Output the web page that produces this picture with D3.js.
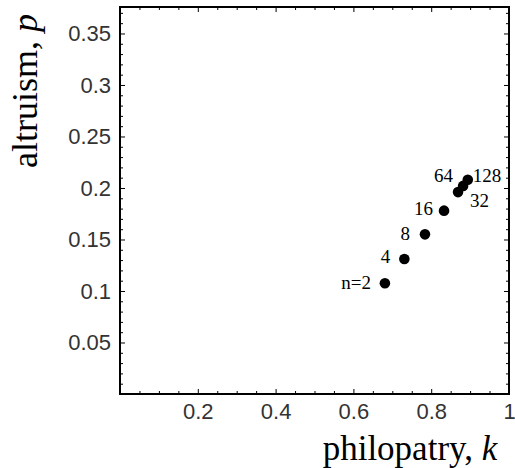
<!DOCTYPE html>
<html>
<head>
<meta charset="utf-8">
<script src="https://cdn.jsdelivr.net/npm/d3@7"></script>
<style>
  body { margin: 0; background: #fff; }
  .domain { display: none; }
  .tick line { stroke: #000; stroke-width: 1; }
</style>
</head>
<body>
<div id="chart"></div>
<script>
// group size n, and the (philopatry, altruism) pair for each
const groupLabels = ["n=2", "4", "8", "16", "32", "64", "128"];
const philopatry = [0.681, 0.731, 0.784, 0.833, 0.869, 0.882, 0.894];
const altruism   = [0.1075, 0.131, 0.155, 0.178, 0.196, 0.202, 0.208];

const xTicks = [0.2, 0.4, 0.6, 0.8, 1];
const yTicks = [0.05, 0.1, 0.15, 0.2, 0.25, 0.3, 0.35];

// where each point label sits relative to its dot (px)
const labelPlace = [
  {dx: -14, dy: 6,  anchor: "end"},
  {dx: -14, dy: 4,  anchor: "end"},
  {dx: -15, dy: 6,  anchor: "end"},
  {dx: -11, dy: 4,  anchor: "end"},
  {dx: 12,  dy: 15, anchor: "start"},
  {dx: -10, dy: -4, anchor: "end"},
  {dx: 5,   dy: 2,  anchor: "start"}
];

(function () {
  var W = 515, H = 468;
  var m = {left: 120, right: 509, top: 7, bottom: 394};

  var svg = d3.select("#chart").append("svg")
              .attr("width", W)
              .attr("height", H);

  var x = d3.scaleLinear().domain([0, 1]).range([m.left, m.right]);
  var y = d3.scaleLinear().domain([0, 0.3757]).range([m.bottom, m.top]);

  var xMinor = d3.range(0.05, 1, 0.05).filter(v => Math.abs(v * 5 - Math.round(v * 5)) > 1e-6);
  var yMinor = d3.range(0.01, 0.375, 0.01).filter(v => Math.abs(v * 20 - Math.round(v * 20)) > 1e-6);

  function styleLabels(g) {
    g.selectAll("text")
     .style("font-family", "'Liberation Sans', Arial, sans-serif")
     .style("font-size", "22px")
     .attr("fill", "#333");
  }

  // bottom axis (labels) + minor ticks
  svg.append("g")
     .attr("transform", `translate(0, ${m.bottom})`)
     .call(d3.axisBottom(x).tickValues(xTicks).tickSize(-5).tickPadding(9).tickFormat(d3.format("")))
     .call(styleLabels);
  svg.append("g")
     .attr("transform", `translate(0, ${m.bottom})`)
     .call(d3.axisBottom(x).tickValues(xMinor).tickSize(-3).tickFormat(""));

  // top axis, ticks only
  svg.append("g")
     .attr("transform", `translate(0, ${m.top})`)
     .call(d3.axisTop(x).tickValues(xTicks).tickSize(-5).tickFormat(""));
  svg.append("g")
     .attr("transform", `translate(0, ${m.top})`)
     .call(d3.axisTop(x).tickValues(xMinor).tickSize(-3).tickFormat(""));

  // left axis (labels) + minor ticks
  svg.append("g")
     .attr("transform", `translate(${m.left}, 0)`)
     .call(d3.axisLeft(y).tickValues(yTicks).tickSize(-5).tickPadding(9).tickFormat(d3.format("")))
     .call(styleLabels);
  svg.append("g")
     .attr("transform", `translate(${m.left}, 0)`)
     .call(d3.axisLeft(y).tickValues(yMinor).tickSize(-3).tickFormat(""));

  // right axis, ticks only
  svg.append("g")
     .attr("transform", `translate(${m.right}, 0)`)
     .call(d3.axisRight(y).tickValues(yTicks).tickSize(-5).tickFormat(""));
  svg.append("g")
     .attr("transform", `translate(${m.right}, 0)`)
     .call(d3.axisRight(y).tickValues(yMinor).tickSize(-3).tickFormat(""));

  // frame
  svg.append("rect")
     .attr("x", m.left)
     .attr("y", m.top)
     .attr("width", m.right - m.left)
     .attr("height", m.bottom - m.top)
     .attr("fill", "none")
     .attr("stroke", "#000")
     .attr("stroke-width", 2);

  // points
  svg.selectAll(".dot")
     .data(philopatry)
     .enter().append("circle")
     .attr("class", "dot")
     .attr("cx", d => x(d))
     .attr("cy", (d, i) => y(altruism[i]))
     .attr("r", 5.3)
     .attr("fill", "#000");

  svg.selectAll(".lab")
     .data(groupLabels)
     .enter().append("text")
     .attr("class", "lab")
     .attr("x", (d, i) => x(philopatry[i]) + labelPlace[i].dx)
     .attr("y", (d, i) => y(altruism[i]) + labelPlace[i].dy)
     .attr("text-anchor", (d, i) => labelPlace[i].anchor)
     .style("font-family", "'Liberation Serif', 'Times New Roman', serif")
     .style("font-size", "19px")
     .text(d => d);

  // axis titles
  var xt = svg.append("text")
     .attr("x", 410)
     .attr("y", 460)
     .attr("text-anchor", "middle")
     .style("font-family", "'Liberation Serif', 'Times New Roman', serif")
     .style("font-size", "35px");
  xt.append("tspan").text("philopatry, ");
  xt.append("tspan").style("font-style", "italic").text("k");

  var yt = svg.append("text")
     .attr("transform", "translate(37, 91) rotate(-90)")
     .attr("text-anchor", "middle")
     .style("font-family", "'Liberation Serif', 'Times New Roman', serif")
     .style("font-size", "36px");
  yt.append("tspan").text("altruism, ");
  yt.append("tspan").style("font-style", "italic").text("p");
})();
</script>
</body>
</html>
